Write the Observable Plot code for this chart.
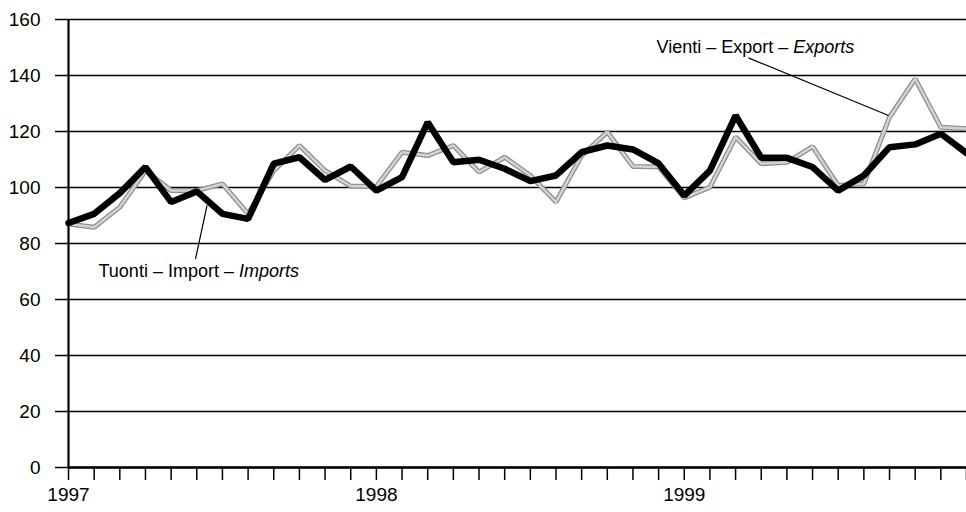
<!DOCTYPE html>
<html><head><meta charset="utf-8">
<script src="https://cdn.jsdelivr.net/npm/d3@7"></script>
<script src="https://cdn.jsdelivr.net/npm/@observablehq/plot@0.6"></script>
<style>
body{margin:0;background:#fff}
#chart svg{font-family:'Liberation Sans Narrow','Liberation Sans',Arial,sans-serif}
</style>
</head><body><div id="chart"></div>
<script>
// Month index 0 = Jan 1997 ... 35 = Dec 1999
const years = ["1997", "1998", "1999"];
const yearStarts = [0, 12, 24];
const months = d3.range(36);
const imports = [87.3, 90.6, 98, 107.3, 94.8, 98.6, 90.6, 88.8, 108.5, 110.8, 102.7, 107.5,
                 98.9, 103.7, 123.3, 109, 109.9, 106.7, 102.3, 104.3, 112.6, 115, 113.6, 108.6,
                 97.1, 106, 125.7, 110.6, 110.6, 107.3, 98.9, 104.3, 114.4, 115.4, 119.2, 112.3];
const exports = [87, 85.8, 93, 106, 98.9, 98.9, 101.3, 90.6, 106, 115, 106, 100.5,
                 100.4, 112.6, 111.4, 115, 105.5, 110.8, 104.3, 94.8, 111.4, 119.8, 107.5, 107.4,
                 96.3, 100.1, 118, 108.5, 109, 114.6, 100.7, 101.3, 125.1, 138.8, 121.5, 121];
const yTicks = [0, 20, 40, 60, 80, 100, 120, 140, 160];
// annotation labels (positions in data units: month index, value)
const labelMain = ["Tuonti – Import – ", "Vienti – Export – "];
const labelItalic = ["Imports", "Exports"];
const labelX = [1.17, 22.92];
const labelY = [70, 150];
// leader lines: from (x1,y1) near label to (x2,y2) on the series
const leaderX1 = [4.95, 26.5];
const leaderY1 = [74.5, 146.3];
const leaderX2 = [5.4, 31.96];
const leaderY2 = [93.6, 125.7];

const importsData = months.map((m, i) => ({m, v: imports[i]}));
const exportsData = months.map((m, i) => ({m, v: exports[i]}));
const labels = labelMain.map((t, i) => ({x: labelX[i], y: labelY[i], text: t + labelItalic[i], main: t, ital: labelItalic[i]}));
const leaders = leaderX1.map((x, i) => ({x1: x, y1: leaderY1[i], x2: leaderX2[i], y2: leaderY2[i]}));

const plot = Plot.plot({
  width: 966, height: 512,
  marginLeft: 68, marginRight: 0, marginTop: 19, marginBottom: 45,
  style: {fontSize: "19px", color: "black", background: "white", overflow: "visible"},
  x: {domain: [0, 35], axis: null},
  y: {domain: [0, 160], axis: null},
  marks: [
    Plot.ruleY(yTicks, {stroke: "black", strokeWidth: 1.5}),
    Plot.axisY(yTicks, {tickSize: 13, tickPadding: 15, tickFormat: d => d, strokeWidth: 1.5, fontSize: 19}),
    Plot.axisX(months, {tickSize: 13, tickFormat: () => "", strokeWidth: 1.5}),
    Plot.axisX(yearStarts, {tickSize: 0, tickPadding: 20, fontSize: 19, tickFormat: i => years[yearStarts.indexOf(i)]}),
    Plot.ruleX([0], {stroke: "black", strokeWidth: 2.2}),
    Plot.ruleY([0], {stroke: "black", strokeWidth: 2.5}),
    Plot.line(exportsData, {x: "m", y: "v", stroke: "#8f8f8f", strokeWidth: 5, strokeLinejoin: "miter"}),
    Plot.line(exportsData, {x: "m", y: "v", stroke: "#d4d4d4", strokeWidth: 2.5, strokeDasharray: "1.5 1.5", strokeLinejoin: "miter"}),
    Plot.line(importsData, {x: "m", y: "v", stroke: "black", strokeWidth: 6.5, strokeLinejoin: "miter"}),
    Plot.link(leaders, {x1: "x1", y1: "y1", x2: "x2", y2: "y2", stroke: "black", strokeWidth: 1.2}),
    Plot.text(labels, {x: "x", y: "y", text: "text", textAnchor: "start", lineAnchor: "middle", fontSize: 18, fill: "black", className: "annot"})
  ]
});
document.getElementById("chart").appendChild(plot);

// italicise the English word in each annotation
d3.select(plot).selectAll("g.annot text").each(function() {
  const el = d3.select(this);
  const idx = labels.findIndex(l => l.text === this.textContent);
  if (idx < 0) return;
  el.text(null);
  el.append("tspan").text(labels[idx].main);
  el.append("tspan").attr("font-style", "italic").text(labels[idx].ital);
});
</script>
</body></html>
